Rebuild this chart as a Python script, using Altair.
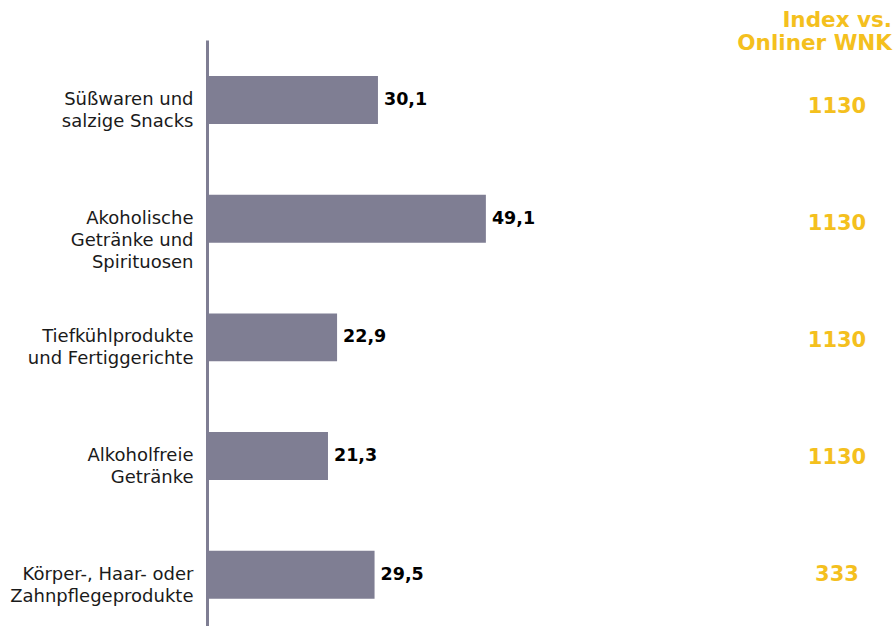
import altair as alt
import pandas as pd

categories = [
    "Süßwaren und|salzige Snacks",
    "Akoholische|Getränke und|Spirituosen",
    "Tiefkühlprodukte|und Fertiggerichte",
    "Alkoholfreie|Getränke",
    "Körper-, Haar- oder|Zahnpflegeprodukte",
]
values = [30.1, 49.1, 22.9, 21.3, 29.5]
value_labels = ["30,1", "49,1", "22,9", "21,3", "29,5"]
index_values = ["1130", "1130", "1130", "1130", "333"]
index_header = ["Index vs.", "Onliner WNK"]

BAR = "#7F7E93"
GOLD = "#F4C01E"
FONT = "DejaVu Sans"

df = pd.DataFrame({
    "cat": categories,
    "value": values,
    "label": value_labels,
    "index": index_values,
})

yscale = alt.Scale(paddingInner=0.596, paddingOuter=0.2665, align=0.569)
ysort = categories

base = alt.Chart(df)

bars = base.mark_bar(color=BAR).encode(
    x=alt.X("value:Q", scale=alt.Scale(domain=[0, 88.03], nice=False), axis=None),
    y=alt.Y(
        "cat:N",
        sort=ysort,
        scale=yscale,
        title=None,
        axis=alt.Axis(
            labelExpr="split(datum.label, '|')",
            labelFont=FONT,
            labelFontSize=18,
            labelColor="#1a1a1a",
            labelAlign="right",
            labelBaseline="middle",
            labelLineHeight=22,
            labelPadding=14,
            labelLimit=400,
            ticks=False,
            domainColor=BAR,
            domainWidth=3,
            grid=False,
        ),
    ),
)

texts = base.mark_text(
    align="left", baseline="middle", dx=6, font=FONT, fontSize=17.5, fontWeight="bold", color="#000000"
).encode(
    x=alt.X("value:Q"),
    y=alt.Y("cat:N", sort=ysort, scale=yscale),
    text="label:N",
)

left = alt.layer(bars, texts).properties(width=500, height=586)

right = base.mark_text(
    align="center", baseline="middle", font=FONT, fontSize=21, fontWeight="bold", color=GOLD
).encode(
    y=alt.Y("cat:N", sort=ysort, scale=yscale, axis=None),
    text="index:N",
).properties(
    width=110,
    height=586,
    title=alt.TitleParams(
        text=index_header,
        anchor="end",
        font=FONT,
        fontSize=21.5,
        fontWeight="bold",
        color=GOLD,
        lineHeight=23,
        offset=-14,
    ),
)

chart = alt.hconcat(left, right, spacing=30).resolve_scale(y="independent").properties(
    padding={"left": 9, "top": 9, "right": 2, "bottom": 0},
    background="white",
).configure_view(stroke=None)

chart.save("out.html", embed_options={"renderer": "svg", "actions": False})
